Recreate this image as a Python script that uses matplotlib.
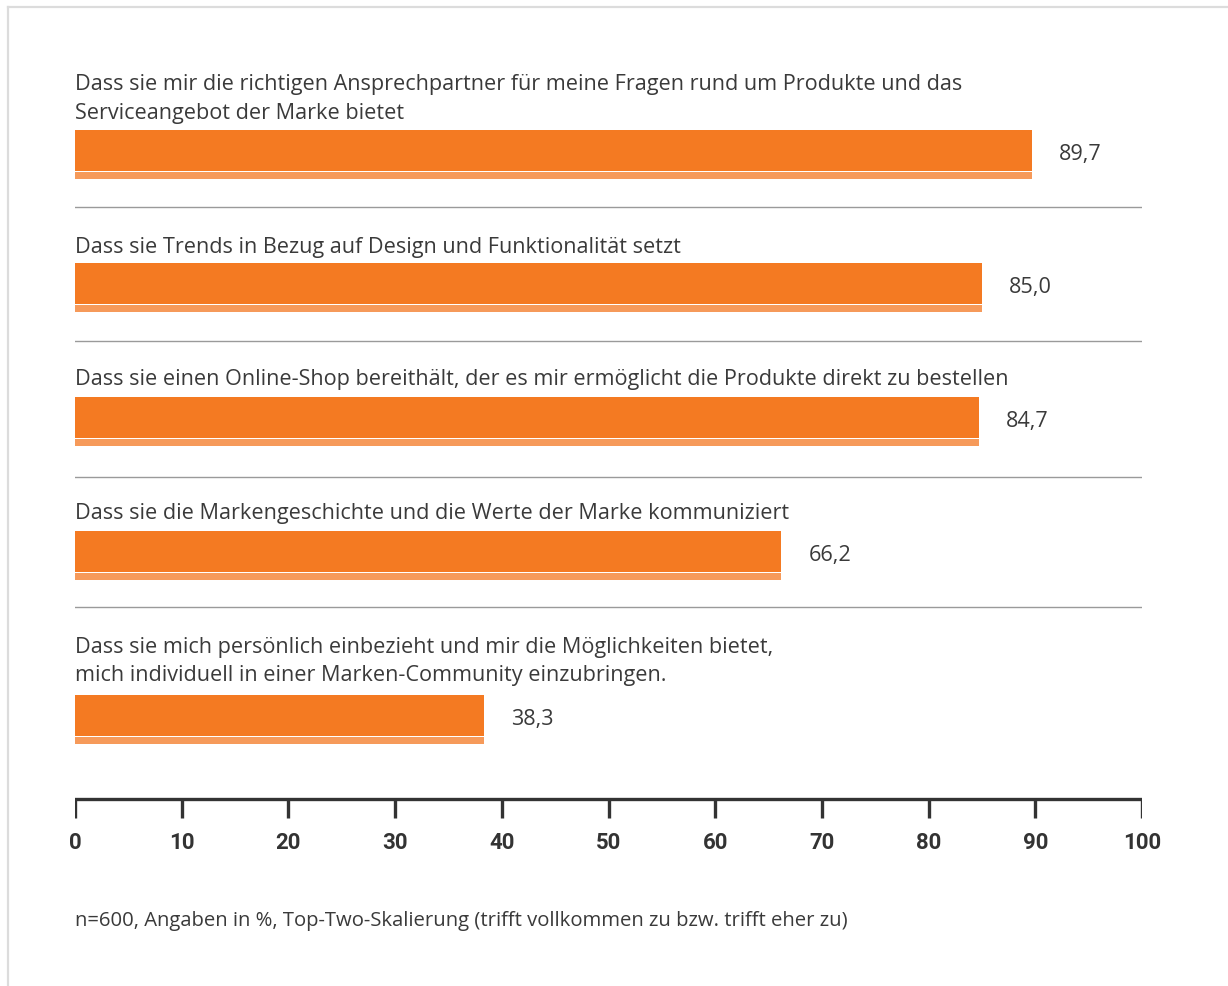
import matplotlib
matplotlib.use('Agg')
import matplotlib.pyplot as plt
from matplotlib.lines import Line2D

# statements and shares (Top-Two, in %)
statements = [
    'Dass sie mir die richtigen Ansprechpartner für meine Fragen rund um Produkte und das\nServiceangebot der Marke bietet',
    'Dass sie Trends in Bezug auf Design und Funktionalität setzt',
    'Dass sie einen Online-Shop bereithält, der es mir ermöglicht die Produkte direkt zu bestellen',
    'Dass sie die Markengeschichte und die Werte der Marke kommuniziert',
    'Dass sie mich persönlich einbezieht und mir die Möglichkeiten bietet,\nmich individuell in einer Marken-Community einzubringen.',
]
values = [89.7, 85.0, 84.7, 66.2, 38.3]
value_labels = ['89,7', '85,0', '84,7', '66,2', '38,3']
ticks = [0, 10, 20, 30, 40, 50, 60, 70, 80, 90, 100]
footnote = 'n=600, Angaben in %, Top-Two-Skalierung (trifft vollkommen zu bzw. trifft eher zu)'

# layout in pixels (y measured from the top of the figure)
W, H = 1228, 987
bar_tops = [131, 264, 398, 532, 696]
label_centers = [99, 247, 380, 514, 661.5]
separators = [208, 342, 478, 608]
main_h, gap, strip_h = 41, 1.2, 6.8

orange = '#f47a22'
orange_light = '#f69a5a'
text_col = '#3a3a3a'

plt.rcParams['font.family'] = ['Open Sans', 'DejaVu Sans']

fig = plt.figure(figsize=(W / 100, H / 100), dpi=100)
x0, x1 = 75, 1142
ax = fig.add_axes([x0 / W, 0, (x1 - x0) / W, 1])
ax.set_xlim(0, 100)
ax.set_ylim(H, 0)
ax.axis('off')

for top, lc, val, lab, txt in zip(bar_tops, label_centers, values, value_labels, statements):
    ax.barh(top, val, height=main_h, align='edge', color=orange, linewidth=0)
    ax.barh(top + main_h + gap, val, height=strip_h, align='edge', color=orange_light, linewidth=0)
    ax.text(0, lc, txt, ha='left', va='center', fontsize=15.6, color=text_col,
            linespacing=1.48, clip_on=False)
    ax.annotate(lab, (val, top + main_h / 2 + 3), xytext=(27, 0), textcoords='offset pixels',
                ha='left', va='center', fontsize=15.6, color=text_col)

for y in separators:
    ax.plot([-0.1, 100.1], [y, y], color='#9a9a9a', linewidth=1.0, solid_capstyle='butt')

# bottom scale
axis_y, tick_len = 800, 19
ax.plot([0, 100], [axis_y, axis_y], color='#333333', linewidth=2.4, solid_capstyle='projecting')
for t in ticks:
    ax.plot([t, t], [axis_y, axis_y + tick_len], color='#333333', linewidth=2.4,
            solid_capstyle='butt')
    ax.text(t, 843, str(t), ha='center', va='center', fontsize=16, fontweight='bold',
            family=['Roboto', 'DejaVu Sans'], color='#333333')

ax.text(0, 921, footnote, ha='left', va='center', fontsize=14.6, color=text_col)

# light frame on top and left
fig.add_artist(Line2D([8 / W, 8 / W], [0, 1 - 8 / H], transform=fig.transFigure,
                      color='#dcdcdc', linewidth=1.6))
fig.add_artist(Line2D([8 / W, 1], [1 - 8 / H, 1 - 8 / H], transform=fig.transFigure,
                      color='#dcdcdc', linewidth=1.6))

fig.savefig('out.png', dpi=100)
